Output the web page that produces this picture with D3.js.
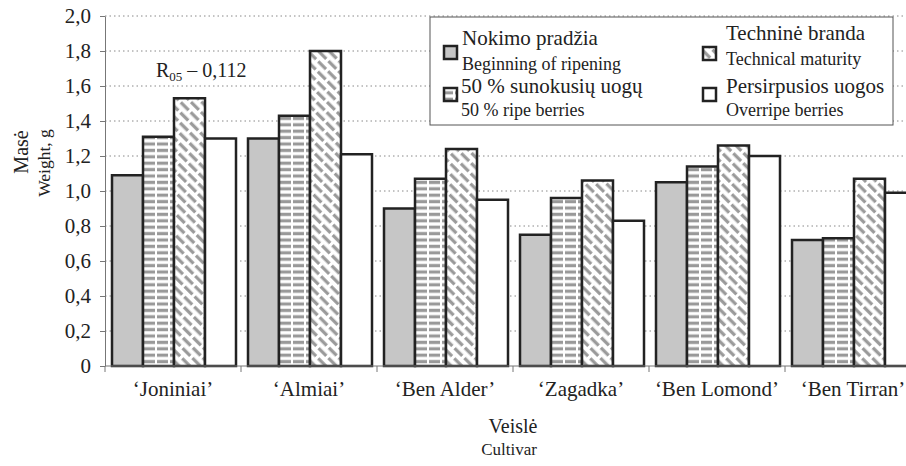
<!DOCTYPE html>
<html>
<head>
<meta charset="utf-8">
<script src="https://cdn.jsdelivr.net/npm/d3@7/dist/d3.min.js"></script>
<style>
	body { margin: 0; background: #fff; }
	svg text { font-family: "Liberation Serif", "DejaVu Serif", serif; }
</style>
</head>
<body>
<div id="chart"></div>
<script>
const cultivars = ['‘Joniniai’', '‘Almiai’', '‘Ben Alder’', '‘Zagadka’', '‘Ben Lomond’', '‘Ben Tirran’'];
const stages = ['start', 'half', 'tech', 'over'];
const nokimoPradzia = [1.09, 1.30, 0.90, 0.75, 1.05, 0.72];
const sunokusiu50 = [1.31, 1.43, 1.07, 0.96, 1.14, 0.73];
const technineBranda = [1.53, 1.80, 1.24, 1.06, 1.26, 1.07];
const persirpusios = [1.30, 1.21, 0.95, 0.83, 1.20, 0.99];
const yTicks = [0, 0.2, 0.4, 0.6, 0.8, 1.0, 1.2, 1.4, 1.6, 1.8, 2.0];

const series = [nokimoPradzia, sunokusiu50, technineBranda, persirpusios];

const width = 906;
const height = 466;
const left = 105;
const groupW = 136;
const serif = 'Liberation Serif';
const ink = '#222';

const svg = d3.select('#chart').append('svg')
	.attr('width', width)
	.attr('height', height)
	.attr('font-family', serif);

// fill patterns
const defs = svg.append('defs');
const hp = defs.append('pattern')
	.attr('id', 'horiz')
	.attr('patternUnits', 'userSpaceOnUse')
	.attr('width', 13).attr('height', 6.4);
hp.append('rect').attr('width', 13).attr('height', 6.4).attr('fill', '#fff');
hp.append('rect').attr('x', 0).attr('y', 1.6).attr('width', 11).attr('height', 3.2).attr('fill', '#999');

// diagonal dashes, every other row shifted so the gaps don't line up
const dp = defs.append('pattern')
	.attr('id', 'diag')
	.attr('patternUnits', 'userSpaceOnUse')
	.attr('width', 14).attr('height', 15)
	.attr('patternTransform', 'rotate(45)');
dp.append('rect').attr('width', 14).attr('height', 15).attr('fill', '#fff');
dp.append('rect').attr('x', 0).attr('y', 2.2).attr('width', 11).attr('height', 3.2).attr('fill', '#999');
dp.append('rect').attr('x', 7).attr('y', 9.7).attr('width', 7).attr('height', 3.2).attr('fill', '#999');
dp.append('rect').attr('x', 0).attr('y', 9.7).attr('width', 4).attr('height', 3.2).attr('fill', '#999');

const fills = ['#c6c6c6', 'url(#horiz)', 'url(#diag)', '#fff'];

const y = d3.scaleLinear().domain([0, 2]).range([366, 16]);
const x0 = d3.scaleBand().domain(cultivars).range([left, left + groupW * cultivars.length]);
const x1 = d3.scaleBand().domain(stages).range([7, x0.bandwidth() - 5]);

// grid
svg.append('g')
	.selectAll('line')
	.data(yTicks.slice(1))
	.enter().append('line')
		.attr('x1', left).attr('x2', width)
		.attr('y1', d => y(d)).attr('y2', d => y(d))
		.attr('stroke', '#888')
		.attr('stroke-width', 1)
		.attr('stroke-dasharray', '1.5,3');

// y axis
const yAxis = svg.append('g')
	.attr('transform', `translate(${left},0)`)
	.call(d3.axisLeft(y).tickValues(yTicks).tickSize(5).tickSizeOuter(0).tickPadding(9)
		.tickFormat(d => d === 0 ? '0' : d3.format('.1f')(d).replace('.', ',')))
	.attr('font-family', serif)
	.attr('font-size', 21);
yAxis.select('.domain').attr('stroke', '#777');
yAxis.selectAll('.tick line').attr('stroke', '#777');
yAxis.selectAll('text').attr('fill', ink);

// bars
const group = svg.append('g').selectAll('g')
	.data(cultivars)
	.enter().append('g')
		.attr('transform', d => `translate(${x0(d)},0)`);

group.selectAll('rect')
	.data((d, i) => series.map((s, j) => ({ key: stages[j], value: s[i], fill: fills[j] })))
	.enter().append('rect')
		.attr('x', d => x1(d.key))
		.attr('y', d => y(d.value))
		.attr('width', x1.bandwidth())
		.attr('height', d => y(0) - y(d.value))
		.attr('fill', d => d.fill)
		.attr('stroke', ink)
		.attr('stroke-width', 2.5);

// x axis
const xAxis = svg.append('g')
	.attr('transform', `translate(0,${y(0)})`);
xAxis.append('line')
	.attr('x1', left).attr('x2', width)
	.attr('stroke', '#777').attr('stroke-width', 1);
xAxis.selectAll('.sep')
	.data(cultivars)
	.enter().append('line')
		.attr('x1', d => x0(d)).attr('x2', d => x0(d))
		.attr('y1', 0).attr('y2', 6)
		.attr('stroke', '#777');
xAxis.selectAll('text')
	.data(cultivars)
	.enter().append('text')
		.attr('x', d => x0(d) + x0.bandwidth() / 2)
		.attr('y', 30)
		.attr('text-anchor', 'middle')
		.attr('font-size', 21)
		.attr('fill', ink)
		.text(d => d);

// axis titles
svg.append('text').attr('x', 513).attr('y', 433).attr('text-anchor', 'middle')
	.attr('font-size', 20).attr('fill', ink).text('Veislė');
svg.append('text').attr('x', 509).attr('y', 455).attr('text-anchor', 'middle')
	.attr('font-size', 17).attr('fill', ink).text('Cultivar');
svg.append('text').attr('transform', 'translate(28,152) rotate(-90)').attr('text-anchor', 'middle')
	.attr('font-size', 20).attr('fill', ink).text('Masė');
svg.append('text').attr('transform', 'translate(50,163) rotate(-90)').attr('text-anchor', 'middle')
	.attr('font-size', 17.5).attr('fill', ink).text('Weight, g');

// R05 note
const r = svg.append('text').attr('x', 156).attr('y', 77).attr('font-size', 20).attr('fill', ink);
r.append('tspan').text('R');
r.append('tspan').attr('font-size', 13).attr('dy', 4).text('05');
r.append('tspan').attr('dy', -4).text(' – 0,112');

// legend
const legend = svg.append('g');
legend.append('rect')
	.attr('x', 430).attr('y', 17).attr('width', 463).attr('height', 108)
	.attr('fill', '#fff').attr('stroke', '#555').attr('stroke-width', 1);

const legendItems = [
	{ fill: fills[0], main: 'Nokimo pradžia', sub: 'Beginning of ripening', sx: 444, sy: 46, tx: 462, my: 45, suby: 70 },
	{ fill: fills[1], main: '50 % sunokusių uogų', sub: '50 % ripe berries', sx: 444, sy: 88, tx: 461, my: 93, suby: 116 },
	{ fill: fills[2], main: 'Techninė branda', sub: 'Technical maturity', sx: 703, sy: 47, tx: 726, my: 40, suby: 65 },
	{ fill: fills[3], main: 'Persirpusios uogos', sub: 'Overripe berries', sx: 703, sy: 88, tx: 726, my: 93, suby: 116 }
];
const li = legend.selectAll('.item')
	.data(legendItems)
	.enter().append('g');
li.append('rect')
	.attr('x', d => d.sx).attr('y', d => d.sy)
	.attr('width', 13).attr('height', 13)
	.attr('fill', d => d.fill)
	.attr('stroke', ink).attr('stroke-width', 2.5);
li.append('text')
	.attr('x', d => d.tx).attr('y', d => d.my)
	.attr('font-size', 21).attr('fill', ink)
	.text(d => d.main);
li.append('text')
	.attr('x', d => d.tx).attr('y', d => d.suby)
	.attr('font-size', 18).attr('fill', ink)
	.text(d => d.sub);
</script>
</body>
</html>
